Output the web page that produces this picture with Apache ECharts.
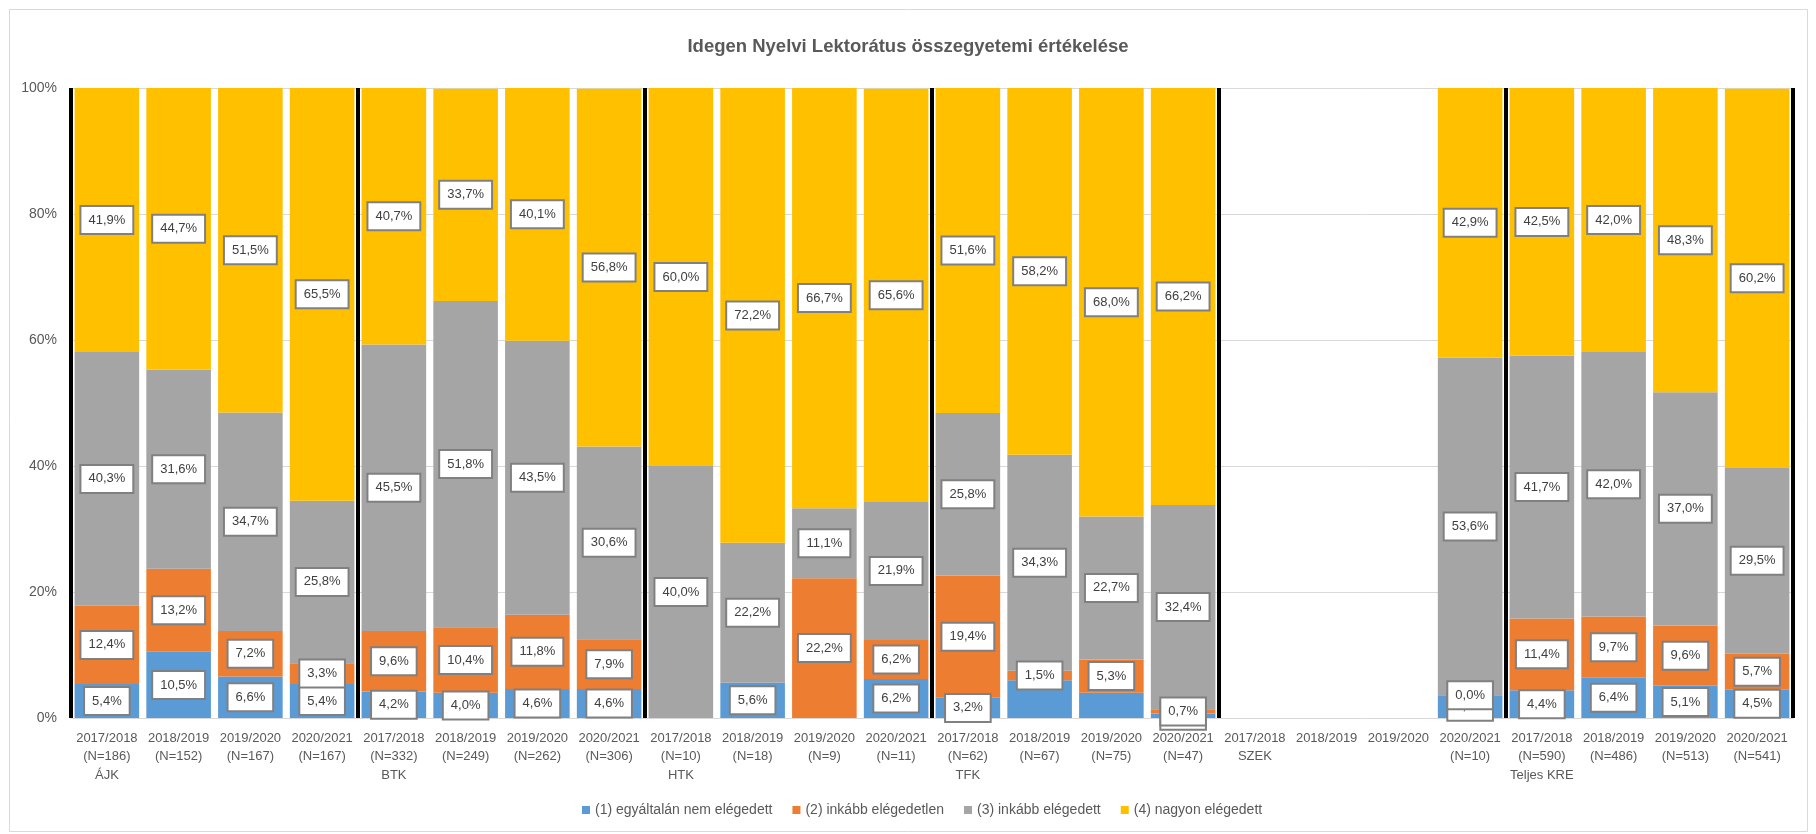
<!DOCTYPE html>
<html>
<head>
<meta charset="utf-8">
<script src="https://cdn.jsdelivr.net/npm/echarts@6/dist/echarts.min.js"></script>
<style>html,body{margin:0;padding:0;background:#fff}#c{width:1816px;height:834px}</style>
</head>
<body>
<div id="c"></div>
<script>
const years = ['2017/2018','2018/2019','2019/2020','2020/2021'];
const groups = ['ÁJK','BTK','HTK','TFK','SZEK','Teljes KRE'];
const nValues = [186,152,167,167, 332,249,262,306, 10,18,9,11, 62,67,75,47, null,null,null,10, 590,486,513,541];
const seriesNames = ['(1) egyáltalán nem elégedett','(2) inkább elégedetlen','(3) inkább elégedett','(4) nagyon elégedett'];
const s1 = [5.4,10.5,6.6,5.4, 4.2,4.0,4.6,4.6, null,5.6,null,6.2, 3.2,6.0,4.0,0.7, null,null,null,3.6, 4.4,6.4,5.1,4.5];
const s2 = [12.4,13.2,7.2,3.3, 9.6,10.4,11.8,7.9, null,null,22.2,6.2, 19.4,1.5,5.3,0.7, null,null,null,0.0, 11.4,9.7,9.6,5.7];
const s3 = [40.3,31.6,34.7,25.8, 45.5,51.8,43.5,30.6, 40.0,22.2,11.1,21.9, 25.8,34.3,22.7,32.4, null,null,null,53.6, 41.7,42.0,37.0,29.5];
const s4 = [41.9,44.7,51.5,65.5, 40.7,33.7,40.1,56.8, 60.0,72.2,66.7,65.6, 51.6,58.2,68.0,66.2, null,null,null,42.9, 42.5,42.0,48.3,60.2];
const hiddenLabels = [[0,13],[0,14]];
const colors = ['#5b9bd5','#ed7d31','#a5a5a5','#ffc000'];

const categories = nValues.map((n, i) => {
  let s = years[i % 4];
  if (n != null) s += '\n(N=' + n + ')';
  if (i % 4 === 0) s += '\n' + groups[i / 4];
  return s;
});

const allSeries = [s1, s2, s3, s4];
const font = 'Liberation Sans';

const series = allSeries.map((arr, si) => ({
  name: seriesNames[si],
  type: 'bar',
  stack: 'total',
  xAxisIndex: 0,
  barCategoryGap: '10%',
  itemStyle: { color: colors[si] },
  label: {
    show: true,
    position: 'inside',
    formatter: p => (p.value == null ? '' : Number(p.value).toFixed(1).replace('.', ',') + '%'),
    color: '#404040',
    fontFamily: font,
    fontSize: 13,
    backgroundColor: '#ffffff',
    borderColor: '#808080',
    borderWidth: 2,
    padding: [7, 7, 6, 7]
  },
  data: arr.map((v, ci) => {
    if (hiddenLabels.some(h => h[0] === si && h[1] === ci)) return { value: v, label: { show: false } };
    return v;
  })
}));

const chart = echarts.init(document.getElementById('c'), null, { renderer: 'canvas' });
chart.setOption({
  animation: false,
  backgroundColor: '#ffffff',
  title: {
    text: 'Idegen Nyelvi Lektorátus összegyetemi értékelése',
    left: 'center',
    top: 32,
    textStyle: { fontFamily: font, fontSize: 18.5, fontWeight: 'bold', color: '#595959' }
  },
  graphic: [{
    type: 'rect',
    shape: { x: 9.5, y: 9.5, width: 1798, height: 822 },
    style: { fill: 'none', stroke: '#d9d9d9', lineWidth: 1 },
    silent: true, z: -1
  }],
  legend: {
    left: 577,
    top: 798,
    itemWidth: 8,
    itemHeight: 8,
    itemGap: 20,
    icon: 'rect',
    textStyle: { fontFamily: font, fontSize: 14, color: '#595959' },
    data: seriesNames
  },
  grid: { left: 71, right: 23, top: 88, bottom: 116 },
  xAxis: [{
    type: 'category',
    data: categories,
    axisTick: { show: false },
    axisLine: { lineStyle: { color: '#d9d9d9', width: 1 } },
    axisLabel: { interval: 0, color: '#595959', fontFamily: font, fontSize: 13, lineHeight: 18.5, margin: 11 }
  }, {
    type: 'value',
    min: 0, max: 24, interval: 4,
    position: 'bottom',
    axisLine: { show: false },
    axisTick: { show: false },
    axisLabel: { show: false },
    splitLine: { show: true, lineStyle: { color: '#000000', width: 4 } }
  }],
  yAxis: {
    type: 'value',
    min: 0, max: 100, interval: 20,
    axisLine: { show: false },
    axisTick: { show: false },
    axisLabel: { formatter: '{value}%', color: '#595959', fontFamily: font, fontSize: 14, margin: 14 },
    splitLine: { lineStyle: { color: '#d9d9d9', width: 1 } }
  },
  series: series
});
</script>
</body>
</html>
